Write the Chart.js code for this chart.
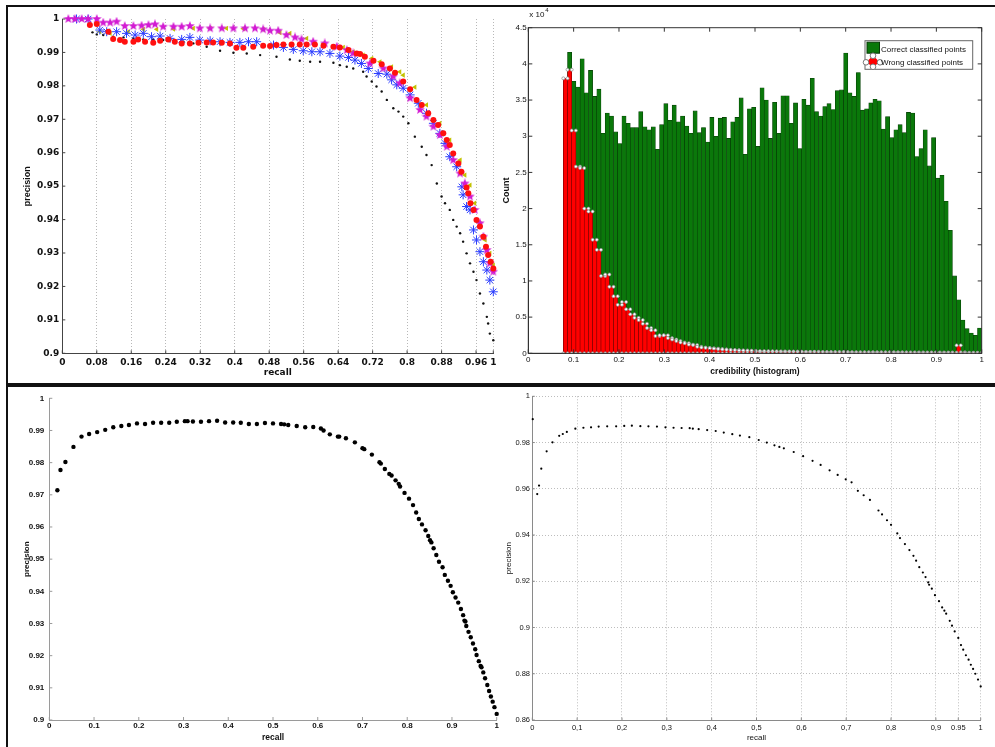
<!DOCTYPE html>
<html>
<head>
<meta charset="utf-8">
<title>Precision / recall and credibility histogram</title>
<script src="https://cdn.jsdelivr.net/npm/chart.js@4.4.1/dist/chart.umd.min.js"></script>
<style>
  html, body { margin: 0; padding: 0; background: #fff; }
  #page { position: relative; width: 995px; height: 747px; overflow: hidden; background: #fff; }
  #page canvas { position: absolute; left: 0; top: 0; }
  .frame { position: absolute; border: 2px solid #111; box-sizing: border-box; }
</style>
</head>
<body>
<div id="page">
  <div class="frame" style="left:6px; top:5px; width:1000px; height:380px;"></div>
  <div class="frame" style="left:6px; top:385px; width:1000px; height:370px;"></div>
  <canvas id="prCompare" width="995" height="747"></canvas>
  <canvas id="credHist" width="995" height="747"></canvas>
  <canvas id="prSingle" width="995" height="747"></canvas>
  <canvas id="prGrid" width="995" height="747"></canvas>
</div>
<script>
// ---------- data: precision / recall comparison (top left) ----------
const prTicksX = [0, 0.08, 0.16, 0.24, 0.32, 0.4, 0.48, 0.56, 0.64, 0.72, 0.8, 0.88, 0.96, 1];
const prTicksY = [0.9, 0.91, 0.92, 0.93, 0.94, 0.95, 0.96, 0.97, 0.98, 0.99, 1];

const prBlack = [[0.070,0.9960],[0.080,0.9954],[0.095,0.9952],[0.118,0.9947],[0.142,0.9945],[0.165,0.9942],
  [0.188,0.9939],[0.211,0.9939],[0.234,0.9937],[0.258,0.9935],[0.281,0.9932],[0.304,0.9927],[0.335,0.9917],
  [0.366,0.9905],[0.397,0.9899],[0.428,0.9897],[0.459,0.9892],[0.497,0.9887],[0.528,0.9879],[0.551,0.9875],
  [0.575,0.9872],[0.598,0.9872],[0.629,0.9869],[0.644,0.9862],[0.660,0.9857],[0.675,0.9852],[0.698,0.9842],
  [0.706,0.9828],[0.718,0.9813],[0.729,0.9798],[0.741,0.9783],[0.753,0.9758],[0.768,0.9733],[0.780,0.9723],
  [0.791,0.9708],[0.803,0.9688],[0.818,0.9648],[0.834,0.9618],[0.845,0.9593],[0.857,0.9563],[0.869,0.9508],
  [0.880,0.9469],[0.888,0.9449],[0.899,0.9429],[0.907,0.9399],[0.915,0.9379],[0.923,0.9359],[0.930,0.9334],
  [0.938,0.9299],[0.946,0.9269],[0.954,0.9244],[0.961,0.9219],[0.969,0.9179],[0.977,0.9149],[0.985,0.9109],
  [0.988,0.9089],[0.992,0.9059],[1.000,0.9039]];

const prRed = [[0.064,0.9982],[0.080,0.9985],[0.107,0.9962],[0.118,0.9940],[0.134,0.9937],[0.145,0.9932],
  [0.165,0.9932],[0.176,0.9939],[0.192,0.9932],[0.211,0.9929],[0.227,0.9935],[0.246,0.9939],[0.261,0.9932],
  [0.277,0.9927],[0.296,0.9927],[0.316,0.9929],[0.335,0.9930],[0.350,0.9930],[0.370,0.9929],[0.389,0.9927],
  [0.404,0.9914],[0.420,0.9914],[0.443,0.9917],[0.466,0.9920],[0.482,0.9919],[0.497,0.9922],[0.513,0.9924],
  [0.532,0.9924],[0.551,0.9924],[0.567,0.9924],[0.586,0.9924],[0.606,0.9920],[0.629,0.9917],[0.644,0.9915],
  [0.664,0.9907],[0.683,0.9897],[0.691,0.9895],[0.702,0.9887],[0.722,0.9875],[0.741,0.9865],[0.760,0.9852],
  [0.772,0.9839],[0.791,0.9813],[0.807,0.9790],[0.822,0.9758],[0.834,0.9743],[0.849,0.9718],[0.861,0.9698],
  [0.872,0.9683],[0.884,0.9658],[0.892,0.9638],[0.899,0.9623],[0.907,0.9598],[0.919,0.9568],[0.926,0.9543],
  [0.938,0.9496],[0.942,0.9479],[0.947,0.9449],[0.954,0.9429],[0.961,0.9399],[0.969,0.9379],[0.977,0.9349],
  [0.983,0.9319],[0.988,0.9294],[0.994,0.9274],[1.000,0.9254]];

const prBlue = [[0.033,1.0],[0.060,1.0],[0.087,0.9967],[0.103,0.9962],[0.126,0.9962],[0.149,0.9957],
  [0.169,0.9952],[0.188,0.9957],[0.207,0.9947],[0.227,0.9949],[0.250,0.9942],[0.277,0.9939],[0.296,0.9945],
  [0.319,0.9937],[0.343,0.9935],[0.366,0.9932],[0.389,0.9930],[0.412,0.9930],[0.432,0.9932],[0.451,0.9932],
  [0.490,0.9922],[0.513,0.9915],[0.536,0.9909],[0.559,0.9905],[0.579,0.9902],[0.598,0.9902],[0.621,0.9897],
  [0.644,0.9889],[0.664,0.9885],[0.679,0.9877],[0.694,0.9867],[0.710,0.9852],[0.733,0.9837],[0.753,0.9835],
  [0.764,0.9818],[0.776,0.9803],[0.791,0.9793],[0.807,0.9773],[0.826,0.9748],[0.845,0.9718],[0.861,0.9688],
  [0.876,0.9658],[0.888,0.9628],[0.899,0.9588],[0.915,0.9558],[0.927,0.9498],[0.930,0.9474],[0.938,0.9439],
  [0.946,0.9429],[0.954,0.9369],[0.961,0.9339],[0.969,0.9304],[0.977,0.9274],[0.985,0.9249],[0.992,0.9219],
  [1.000,0.9184]];

const prMagenta = [[0.014,1.0],[0.029,1.0],[0.045,1.0],[0.060,1.0],[0.080,1.0],[0.095,0.9989],[0.111,0.9989],
  [0.126,0.9992],[0.145,0.9979],[0.165,0.9979],[0.184,0.9980],[0.200,0.9982],[0.215,0.9984],[0.234,0.9977],
  [0.258,0.9977],[0.277,0.9977],[0.296,0.9979],[0.319,0.9972],[0.343,0.9972],[0.370,0.9972],[0.397,0.9972],
  [0.424,0.9972],[0.447,0.9972],[0.466,0.9969],[0.482,0.9965],[0.501,0.9965],[0.520,0.9952],[0.540,0.9945],
  [0.555,0.9939],[0.582,0.9932],[0.609,0.9927],[0.637,0.9917],[0.660,0.9907],[0.675,0.9897],[0.714,0.9867],
  [0.745,0.9852],[0.768,0.9828],[0.783,0.9808],[0.807,0.9763],[0.830,0.9728],[0.845,0.9708],[0.861,0.9678],
  [0.876,0.9653],[0.892,0.9618],[0.907,0.9578],[0.923,0.9538],[0.934,0.9508],[0.946,0.9469],[0.957,0.9429],
  [0.969,0.9389],[0.977,0.9349],[0.985,0.9309],[0.992,0.9269],[1.000,0.9244]];

const prYellow = [[0.087,0.9962],[0.111,0.9957],[0.153,0.9962],[0.188,0.9969],[0.219,0.9969],[0.258,0.9970],
  [0.304,0.9972],[0.343,0.9972],[0.381,0.9972],[0.420,0.9971],[0.466,0.9969],[0.505,0.9959],[0.528,0.9957],
  [0.567,0.9942],[0.606,0.9927],[0.652,0.9915],[0.675,0.9902],[0.698,0.9892],[0.718,0.9882],[0.737,0.9872],
  [0.764,0.9857],[0.783,0.9842],[0.791,0.9832],[0.818,0.9796],[0.845,0.9743],[0.876,0.9688],[0.899,0.9638],
  [0.923,0.9578],[0.934,0.9533],[0.946,0.9503],[0.957,0.9449],[0.969,0.9389],[0.981,0.9339],[0.992,0.9299],
  [1.000,0.9264]];

// ---------- data: credibility histogram (top right) ----------
const credMin = 0.0773;
const credMax = 1.0;
const histTicksX = [0, 0.1, 0.2, 0.3, 0.4, 0.5, 0.6, 0.7, 0.8, 0.9, 1];
const histTicksY = [0, 5000, 10000, 15000, 20000, 25000, 30000, 35000, 40000, 45000];
const histLabelsY = ['0', '0.5', '1', '1.5', '2', '2.5', '3', '3.5', '4', '4.5'];

const correctCounts = [
  36000, 41600, 37600, 36800, 40700, 36000, 39100, 35500, 36500, 30400,
  33200, 32800, 30600, 29000, 32800, 31800, 31200, 31200, 33400, 31300,
  30900, 31300, 28200, 31600, 34500, 32200, 34300, 32000, 32800, 31400,
  30400, 33500, 30500, 31200, 29200, 32600, 30000, 32500, 32600, 29700,
  32000, 32600, 35300, 27500, 33800, 34000, 28600, 36700, 35000, 29700,
  34700, 30400, 35600, 35600, 31800, 34600, 28300, 35100, 34300, 38000,
  33400, 32800, 34100, 34500, 33700, 36300, 36400, 41500, 36000, 35500,
  38800, 33600, 33800, 34600, 35100, 34900, 31000, 32700, 29800, 30900,
  31600, 30500, 33300, 33200, 27200, 28300, 30900, 25900, 29800, 24200,
  24600, 21000, 17000, 10700, 7400, 4600, 3400, 2800, 2500, 3500];

const wrongCounts = [
  38000, 39200, 30800, 25800, 25600, 20000, 19600, 15700, 14300, 10700,
  10900, 9200, 7900, 6700, 7100, 6100, 5400, 4900, 4600, 4100,
  3500, 3200, 2400, 2500, 2500, 2100, 1900, 1700, 1500, 1400,
  1200, 1150, 900, 800, 750, 700, 650, 600, 550, 500,
  450, 450, 400, 400, 350, 350, 300, 300, 300, 280,
  270, 260, 250, 250, 240, 230, 220, 210, 200, 200,
  200, 190, 190, 180, 180, 170, 170, 170, 160, 160,
  150, 150, 150, 150, 140, 140, 140, 140, 130, 130,
  130, 130, 120, 120, 120, 120, 110, 110, 110, 110,
  100, 100, 100, 100, 1100, 150, 80, 80, 70, 60];

// ---------- data: single precision / recall curve (bottom left) ----------
const singleTicksX = [0, 0.1, 0.2, 0.3, 0.4, 0.5, 0.6, 0.7, 0.8, 0.9, 1];
const singleTicksY = [0.9, 0.91, 0.92, 0.93, 0.94, 0.95, 0.96, 0.97, 0.98, 0.99, 1];
const singleCurve = [[0.018,0.9714],[0.025,0.9777],[0.036,0.9802],[0.054,0.9849],[0.072,0.9881],[0.089,0.9889],
  [0.107,0.9895],[0.125,0.9902],[0.143,0.9910],[0.161,0.9914],[0.178,0.9917],[0.196,0.9922],[0.214,0.9920],
  [0.232,0.9924],[0.250,0.9924],[0.268,0.9924],[0.285,0.9927],[0.303,0.9929],[0.309,0.9929],[0.321,0.9928],
  [0.339,0.9927],[0.357,0.9929],[0.375,0.9930],[0.393,0.9925],[0.411,0.9925],[0.428,0.9924],[0.446,0.9920],
  [0.464,0.9920],[0.482,0.9923],[0.500,0.9922],[0.518,0.9920],[0.525,0.9919],[0.534,0.9917],[0.553,0.9914],
  [0.572,0.9910],[0.590,0.9911],[0.607,0.9906],[0.613,0.9900],[0.627,0.9888],[0.645,0.9881],[0.648,0.9881],
  [0.663,0.9876],[0.683,0.9863],[0.700,0.9845],[0.704,0.9842],[0.721,0.9825],[0.738,0.9801],[0.741,0.9797],
  [0.750,0.9780],[0.760,0.9765],[0.765,0.9760],[0.774,0.9745],[0.781,0.9734],[0.784,0.9726],[0.794,0.9706],
  [0.804,0.9688],[0.813,0.9668],[0.820,0.9645],[0.826,0.9625],[0.833,0.9608],[0.841,0.9590],[0.847,0.9572],
  [0.851,0.9559],[0.854,0.9552],[0.859,0.9534],[0.865,0.9513],[0.871,0.9492],[0.879,0.9475],[0.884,0.9451],
  [0.891,0.9433],[0.897,0.9417],[0.902,0.9397],[0.908,0.9381],[0.914,0.9365],[0.920,0.9345],[0.925,0.9326],
  [0.928,0.9309],[0.930,0.9306],[0.932,0.9292],[0.937,0.9274],[0.942,0.9257],[0.947,0.9238],[0.952,0.9220],
  [0.955,0.9202],[0.960,0.9183],[0.964,0.9168],[0.966,0.9164],[0.970,0.9148],[0.974,0.9130],[0.979,0.9109],
  [0.983,0.9090],[0.987,0.9073],[0.991,0.9057],[0.995,0.9040],[1.000,0.9019]];

// ---------- data: precision / recall with grid (bottom right) ----------
const gridTicksX = [0, 0.1, 0.2, 0.3, 0.4, 0.5, 0.6, 0.7, 0.8, 0.9, 0.95, 1];
const gridLabelsX = ['0', '0,1', '0,2', '0,3', '0,4', '0,5', '0,6', '0,7', '0,8', '0,9', '0.95', '1'];
const gridTicksY = [0.86, 0.88, 0.9, 0.92, 0.94, 0.96, 0.98, 1];
const gridCurve = [[0.001,0.9901],[0.011,0.9577],[0.015,0.9614],[0.020,0.9687],[0.032,0.9762],[0.045,0.9801],
  [0.060,0.9829],[0.068,0.9837],[0.077,0.9846],[0.096,0.9860],[0.114,0.9864],[0.131,0.9866],[0.148,0.9869],
  [0.167,0.9870],[0.187,0.9870],[0.205,0.9872],[0.222,0.9873],[0.241,0.9871],[0.259,0.9870],[0.278,0.9869],
  [0.297,0.9866],[0.315,0.9864],[0.333,0.9863],[0.351,0.9862],[0.358,0.9860],[0.371,0.9858],[0.390,0.9854],
  [0.409,0.9850],[0.427,0.9843],[0.446,0.9836],[0.463,0.9830],[0.484,0.9823],[0.505,0.9811],[0.523,0.9800],
  [0.540,0.9788],[0.551,0.9781],[0.561,0.9775],[0.583,0.9759],[0.604,0.9741],[0.625,0.9721],[0.643,0.9703],
  [0.663,0.9680],[0.681,0.9660],[0.699,0.9641],[0.712,0.9628],[0.726,0.9591],[0.739,0.9572],[0.753,0.9552],
  [0.772,0.9506],[0.780,0.9489],[0.791,0.9464],[0.800,0.9444],[0.814,0.9407],[0.820,0.9387],[0.831,0.9361],
  [0.841,0.9335],[0.850,0.9310],[0.856,0.9289],[0.863,0.9261],[0.871,0.9238],[0.877,0.9218],[0.883,0.9195],
  [0.885,0.9185],[0.891,0.9168],[0.898,0.9140],[0.907,0.9114],[0.914,0.9087],[0.919,0.9073],[0.923,0.9060],
  [0.931,0.9029],[0.936,0.9008],[0.942,0.8983],[0.950,0.8955],[0.956,0.8924],[0.961,0.8904],[0.967,0.8880],
  [0.973,0.8861],[0.978,0.8839],[0.983,0.8821],[0.988,0.8800],[0.994,0.8775],[1.000,0.8745]];

// ---------- layout ----------
const PAGE_W = 995, PAGE_H = 747;
const SANS = "'Liberation Sans', Arial, sans-serif";
const WIDE = "'DejaVu Sans', Verdana, sans-serif";

Chart.defaults.font.family = SANS;
Chart.defaults.color = '#111';
Chart.defaults.animation = false;
Chart.defaults.responsive = false;
Chart.defaults.plugins.legend.display = false;
Chart.defaults.plugins.tooltip.enabled = false;

// place the plot rectangle [left, top, right, bottom] on the page
function padFor(area, yAxisWidth, xAxisHeight) {
  return {
    left: area[0] - yAxisWidth,
    top: area[1],
    right: PAGE_W - area[2],
    bottom: PAGE_H - area[3] - xAxisHeight
  };
}

function axis(o) {
  return {
    type: 'linear',
    min: o.min,
    max: o.max,
    afterBuildTicks: s => { s.ticks = o.ticks.map(v => ({ value: v })); },
    afterFit: s => { if (s.isHorizontal()) s.height = o.size; else s.width = o.size; },
    ticks: {
      autoSkip: false, maxRotation: 0, minRotation: 0,
      padding: o.tickPad, font: o.tickFont, color: '#111',
      callback: (v, i) => (o.labels ? o.labels[i] : String(v))
    },
    grid: Object.assign({ display: false, drawTicks: false }, o.grid || {}),
    border: { display: true, color: o.line, width: 1, dash: o.dash || [] },
    title: { display: true, text: o.title, font: o.titleFont, padding: 0, color: '#111' }
  };
}

const toXY = pairs => pairs.map(p => ({ x: p[0], y: p[1] }));

// MATLAB style inward tick marks, optional full box
const matlabAxes = {
  id: 'matlabAxes',
  afterDraw(chart, args, opts) {
    if (!opts || !opts.tickLength) return;
    const { ctx, chartArea: a } = chart;
    const len = opts.tickLength;
    ctx.save();
    ctx.strokeStyle = opts.color;
    ctx.lineWidth = 1;
    ctx.beginPath();
    chart.scales.x.ticks.forEach(t => {
      const p = chart.scales.x.getPixelForValue(t.value);
      ctx.moveTo(p, a.bottom); ctx.lineTo(p, a.bottom - len);
      if (opts.box) { ctx.moveTo(p, a.top); ctx.lineTo(p, a.top + len); }
    });
    chart.scales.y.ticks.forEach(t => {
      const p = chart.scales.y.getPixelForValue(t.value);
      ctx.moveTo(a.left, p); ctx.lineTo(a.left + len, p);
      if (opts.box) { ctx.moveTo(a.right, p); ctx.lineTo(a.right - len, p); }
    });
    ctx.stroke();
    if (opts.box) ctx.strokeRect(a.left, a.top, a.right - a.left, a.bottom - a.top);
    ctx.restore();
  }
};
Chart.register(matlabAxes);

// filled five-point star marker
function pentagram(size, color) {
  const c = document.createElement('canvas');
  c.width = c.height = size;
  const g = c.getContext('2d');
  const r = size / 2, ri = r * 0.42;
  g.beginPath();
  for (let k = 0; k < 10; k++) {
    const ang = -Math.PI / 2 + k * Math.PI / 5;
    const rr = k % 2 ? ri : r;
    g.lineTo(r + rr * Math.cos(ang), r + rr * Math.sin(ang));
  }
  g.closePath();
  g.fillStyle = color;
  g.fill();
  return c;
}

// ---------- top left: precision / recall comparison ----------
const cmpArea = [62.3, 19, 493.3, 353.3];
new Chart(document.getElementById('prCompare'), {
  type: 'scatter',
  data: {
    datasets: [
      { data: toXY(prRed), order: 0, pointStyle: 'circle', pointRadius: 3, backgroundColor: '#ff1010', borderColor: '#ff1010', borderWidth: 0 },
      { data: toXY(prMagenta), order: 1, pointStyle: pentagram(10, '#d21ad2'), pointRadius: 5 },
      { data: toXY(prBlue), order: 2, pointStyle: 'star', pointRadius: 4.5, borderColor: '#2a3cff', borderWidth: 1 },
      { data: toXY(prYellow), order: 3, pointStyle: 'triangle', rotation: -90, pointRadius: 3, backgroundColor: '#c2c200', borderColor: '#c2c200', borderWidth: 0 },
      { data: toXY(prBlack), order: 4, pointStyle: 'circle', pointRadius: 1.2, backgroundColor: '#111', borderWidth: 0 }
    ]
  },
  options: {
    clip: false,
    layout: { padding: padFor(cmpArea, 40, 24.8) },
    scales: {
      x: axis({ min: 0, max: 1, ticks: prTicksX, size: 24.8, tickPad: 4, line: '#444',
        tickFont: { family: WIDE, size: 9, weight: 'bold' },
        title: 'recall', titleFont: { family: WIDE, size: 9, weight: 'bold' },
        grid: { display: true, color: '#b8b8b8', lineWidth: 1 }, dash: [1, 2] }),
      y: axis({ min: 0.9, max: 1, ticks: prTicksY, size: 40, tickPad: 3, line: '#444',
        tickFont: { family: WIDE, size: 9, weight: 'bold' },
        title: 'precision', titleFont: { family: SANS, size: 9, weight: 'bold' } })
    },
    plugins: { matlabAxes: { tickLength: 3, color: '#444' } }
  }
});

// ---------- top right: credibility histogram ----------
const histArea = [528.3, 27.7, 981.7, 353.3];
const binWidth = (credMax - credMin) / correctCounts.length;
const binCenter = i => credMin + (i + 0.5) * binWidth;
const edgeMarks = [];
wrongCounts.forEach((c, i) => {
  const x0 = credMin + i * binWidth;
  edgeMarks.push({ x: x0, y: c }, { x: x0 + binWidth, y: c }, { x: x0, y: 0 });
});

const histExtras = {
  id: 'histExtras',
  afterDraw(chart) {
    const { ctx, chartArea: a } = chart;
    ctx.save();
    ctx.fillStyle = '#111';
    ctx.font = '8px ' + SANS;
    ctx.textBaseline = 'middle';
    ctx.fillText('x 10', a.left + 1, a.top - 12.5);
    ctx.font = '6px ' + SANS;
    ctx.fillText('4', a.left + 17, a.top - 17);

    // legend box in the upper right corner of the axes
    const lx = a.right - 116.7, ly = a.top + 13, lw = 107.7, lh = 28.6;
    ctx.fillStyle = '#fff';
    ctx.fillRect(lx, ly, lw, lh);
    ctx.strokeStyle = '#666';
    ctx.lineWidth = 1;
    ctx.strokeRect(lx, ly, lw, lh);
    const green = chart.data.datasets[2];
    const red = chart.data.datasets[1];
    ctx.fillStyle = green.backgroundColor;
    ctx.fillRect(lx + 2, ly + 1.5, 12.5, 11);
    ctx.strokeStyle = green.borderColor;
    ctx.strokeRect(lx + 2, ly + 1.5, 12.5, 11);
    const cx = lx + 8, cy = ly + 21.6;
    ctx.beginPath();
    ctx.moveTo(cx - 7, cy); ctx.lineTo(cx, cy - 6.5); ctx.lineTo(cx + 7, cy); ctx.lineTo(cx, cy + 4.5);
    ctx.closePath();
    ctx.fillStyle = red.backgroundColor;
    ctx.fill();
    [[-7, 0], [7, 0], [0, -6.5], [0, 4.5]].forEach(d => {
      ctx.beginPath();
      ctx.arc(cx + d[0], cy + d[1], 2.8, 0, Math.PI * 2);
      ctx.fillStyle = '#fff'; ctx.fill();
      ctx.strokeStyle = '#777'; ctx.stroke();
    });
    ctx.fillStyle = '#111';
    ctx.font = '8px ' + SANS;
    ctx.fillText(green.label, lx + 16, ly + 8.6);
    ctx.fillText(red.label, lx + 16, ly + 22);
    ctx.restore();
  }
};

new Chart(document.getElementById('credHist'), {
  type: 'bar',
  data: {
    datasets: [
      { type: 'scatter', label: 'bin edges', data: edgeMarks, order: 0, showLine: false,
        pointRadius: 1.5, backgroundColor: '#fff', borderColor: '#888', borderWidth: 0.7 },
      { label: 'Wrong classified points', data: wrongCounts.map((c, i) => ({ x: binCenter(i), y: c })),
        order: 1, grouped: false, barPercentage: 1, categoryPercentage: 1,
        backgroundColor: '#ff0000', borderColor: '#7a0000', borderWidth: 0.6 },
      { label: 'Correct classified points', data: correctCounts.map((c, i) => ({ x: binCenter(i), y: c })),
        order: 2, grouped: false, barPercentage: 1, categoryPercentage: 1,
        backgroundColor: '#0a780a', borderColor: '#063a06', borderWidth: 0.6 }
    ]
  },
  options: {
    layout: { padding: padFor(histArea, 26.7, 23.5) },
    scales: {
      x: Object.assign(axis({ min: 0, max: 1, ticks: histTicksX, size: 23.5, tickPad: 2, line: '#333',
        tickFont: { size: 8 }, title: 'credibility (histogram)', titleFont: { size: 8.5, weight: 'bold' } }),
        { offset: false }),
      y: axis({ min: 0, max: 45000, ticks: histTicksY, labels: histLabelsY, size: 26.7, tickPad: 1.6, line: '#333',
        tickFont: { size: 8 }, title: 'Count', titleFont: { size: 9, weight: 'bold' } })
    },
    plugins: { matlabAxes: { tickLength: 4, color: '#333', box: true } }
  },
  plugins: [histExtras]
});

// ---------- bottom left: single precision / recall curve ----------
const singleArea = [49.3, 398.3, 496.7, 720];
new Chart(document.getElementById('prSingle'), {
  type: 'scatter',
  data: {
    datasets: [
      { data: toXY(singleCurve), pointStyle: 'circle', pointRadius: 2.2, backgroundColor: '#000', borderWidth: 0 }
    ]
  },
  options: {
    clip: false,
    layout: { padding: padFor(singleArea, 27.4, 23.1) },
    scales: {
      x: axis({ min: 0, max: 1, ticks: singleTicksX, size: 23.1, tickPad: 0.5, line: '#9a9a9a',
        tickFont: { size: 8, weight: 'bold' }, title: 'recall', titleFont: { size: 8.5, weight: 'bold' } }),
      y: axis({ min: 0.9, max: 1, ticks: singleTicksY, size: 27.4, tickPad: 5, line: '#9a9a9a',
        tickFont: { size: 8, weight: 'bold' }, title: 'precision', titleFont: { size: 8, weight: 'bold' } })
    },
    plugins: { matlabAxes: { tickLength: 3, color: '#9a9a9a' } }
  }
});

// ---------- bottom right: precision / recall with dotted grid ----------
const gridArea = [532.3, 396.3, 980.7, 720];
new Chart(document.getElementById('prGrid'), {
  type: 'scatter',
  data: {
    datasets: [
      { data: toXY(gridCurve), pointStyle: 'circle', pointRadius: 1.1, backgroundColor: '#000', borderWidth: 0 }
    ]
  },
  options: {
    clip: false,
    layout: { padding: padFor(gridArea, 28.8, 22.8) },
    scales: {
      x: axis({ min: 0, max: 1, ticks: gridTicksX, labels: gridLabelsX, size: 22.8, tickPad: 3.8, line: '#8a8a8a',
        tickFont: { size: 7.5 }, title: 'recall', titleFont: { size: 8 },
        grid: { display: true, color: '#bdbdbd', lineWidth: 1 }, dash: [1, 2] }),
      y: axis({ min: 0.86, max: 1, ticks: gridTicksY, size: 28.8, tickPad: 2.3, line: '#8a8a8a',
        tickFont: { size: 7.5 }, title: 'precision', titleFont: { size: 8 },
        grid: { display: true, color: '#bdbdbd', lineWidth: 1 }, dash: [1, 2] })
    },
    plugins: { matlabAxes: { tickLength: 2.5, color: '#8a8a8a' } }
  }
});
</script>
</body>
</html>
